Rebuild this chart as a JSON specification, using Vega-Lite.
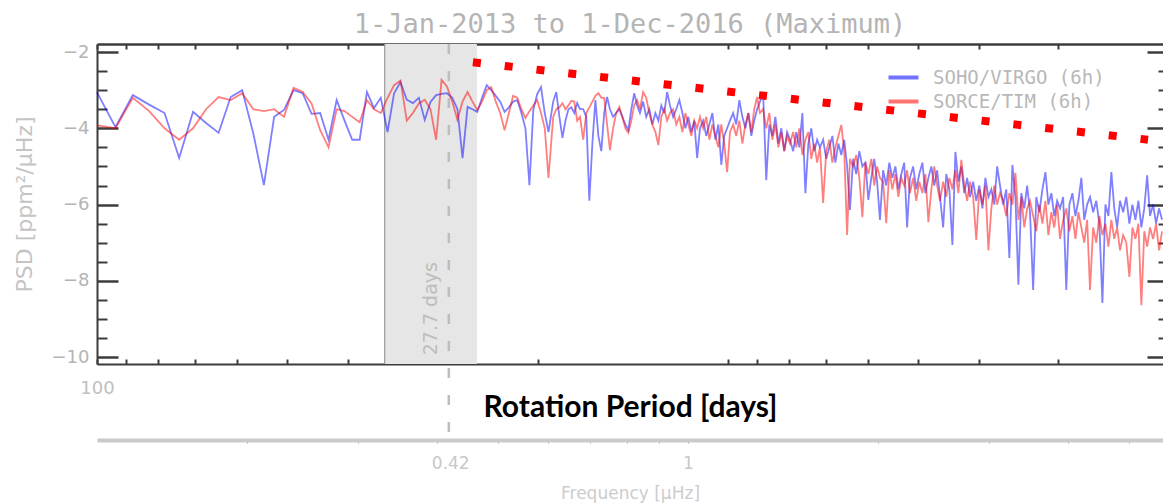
{
  "$schema": "https://vega.github.io/schema/vega-lite/v6.json",
  "width": 1066,
  "height": 320,
  "autosize": {"type": "none"},
  "padding": {"left": 97, "top": 44, "right": 0, "bottom": 140},
  "background": "#ffffff",
  "config": {
    "view": {"stroke": null},
    "axis": {"grid": false, "zindex": 1, "labelFont": "DejaVu Sans", "titleFont": "DejaVu Sans"}
  },
  "title": {
    "text": "1-Jan-2013 to 1-Dec-2016 (Maximum)",
    "font": "DejaVu Sans Mono",
    "fontSize": 27,
    "fontWeight": "normal",
    "color": "#b4b4b4",
    "anchor": "middle",
    "offset": 4
  },
  "datasets": {
    "psd": [
      {"f":0.1157,"virgo":-3.05,"tim":-3.92},
      {"f":0.1238,"virgo":-3.97,"tim":-4.0},
      {"f":0.1319,"virgo":-3.13,"tim":-3.2},
      {"f":0.1400,"virgo":-3.38,"tim":-3.55},
      {"f":0.1481,"virgo":-3.6,"tim":-4.0},
      {"f":0.1562,"virgo":-4.78,"tim":-4.3},
      {"f":0.1643,"virgo":-3.57,"tim":-4.0},
      {"f":0.1723,"virgo":-3.86,"tim":-3.5},
      {"f":0.1804,"virgo":-4.12,"tim":-3.18},
      {"f":0.1885,"virgo":-3.18,"tim":-3.26},
      {"f":0.1966,"virgo":-3.0,"tim":-3.08},
      {"f":0.2047,"virgo":-4.13,"tim":-3.5},
      {"f":0.2128,"virgo":-5.49,"tim":-3.55},
      {"f":0.2209,"virgo":-3.7,"tim":-3.5},
      {"f":0.2290,"virgo":-3.52,"tim":-3.7},
      {"f":0.2371,"virgo":-3.0,"tim":-2.94},
      {"f":0.2451,"virgo":-3.08,"tim":-3.05},
      {"f":0.2532,"virgo":-3.62,"tim":-3.35},
      {"f":0.2613,"virgo":-3.6,"tim":-4.05},
      {"f":0.2694,"virgo":-4.3,"tim":-4.5},
      {"f":0.2775,"virgo":-3.26,"tim":-3.5},
      {"f":0.2856,"virgo":-3.8,"tim":-3.55},
      {"f":0.2937,"virgo":-4.3,"tim":-3.7},
      {"f":0.3018,"virgo":-4.3,"tim":-3.84},
      {"f":0.3099,"virgo":-3.05,"tim":-3.26},
      {"f":0.3180,"virgo":-3.47,"tim":-3.5},
      {"f":0.3260,"virgo":-3.2,"tim":-3.6},
      {"f":0.3341,"virgo":-4.1,"tim":-3.2},
      {"f":0.3422,"virgo":-3.08,"tim":-2.87},
      {"f":0.3503,"virgo":-2.79,"tim":-2.75},
      {"f":0.3584,"virgo":-3.25,"tim":-3.8},
      {"f":0.3665,"virgo":-3.34,"tim":-3.6},
      {"f":0.3746,"virgo":-3.2,"tim":-3.35},
      {"f":0.3827,"virgo":-3.78,"tim":-3.25},
      {"f":0.3908,"virgo":-3.31,"tim":-3.5},
      {"f":0.3989,"virgo":-3.13,"tim":-4.3},
      {"f":0.4069,"virgo":-3.1,"tim":-2.73},
      {"f":0.4150,"virgo":-3.08,"tim":-2.9},
      {"f":0.4231,"virgo":-3.2,"tim":-3.3},
      {"f":0.4312,"virgo":-3.5,"tim":-3.78},
      {"f":0.4393,"virgo":-4.78,"tim":-3.3},
      {"f":0.4474,"virgo":-3.44,"tim":-3.05},
      {"f":0.4555,"virgo":-3.5,"tim":-3.3},
      {"f":0.4636,"virgo":-3.57,"tim":-3.52},
      {"f":0.4717,"virgo":-3.2,"tim":-3.3},
      {"f":0.4798,"virgo":-2.87,"tim":-3.0},
      {"f":0.4878,"virgo":-3.0,"tim":-2.92},
      {"f":0.4959,"virgo":-3.15,"tim":-3.3},
      {"f":0.5040,"virgo":-3.3,"tim":-3.6},
      {"f":0.5121,"virgo":-3.57,"tim":-4.05},
      {"f":0.5202,"virgo":-3.45,"tim":-3.6},
      {"f":0.5283,"virgo":-3.3,"tim":-3.15},
      {"f":0.5364,"virgo":-3.26,"tim":-3.2},
      {"f":0.5445,"virgo":-3.6,"tim":-3.5},
      {"f":0.5526,"virgo":-4.0,"tim":-3.73},
      {"f":0.5607,"virgo":-5.49,"tim":-3.55},
      {"f":0.5687,"virgo":-3.52,"tim":-3.4},
      {"f":0.5768,"virgo":-3.1,"tim":-3.26},
      {"f":0.5849,"virgo":-2.92,"tim":-3.6},
      {"f":0.5930,"virgo":-3.6,"tim":-4.0},
      {"f":0.6011,"virgo":-4.1,"tim":-5.3},
      {"f":0.6115,"virgo":-3.3,"tim":-3.7},
      {"f":0.6185,"virgo":-3.05,"tim":-3.5},
      {"f":0.6255,"virgo":-3.7,"tim":-3.45},
      {"f":0.6325,"virgo":-4.25,"tim":-3.34},
      {"f":0.6395,"virgo":-3.8,"tim":-3.5},
      {"f":0.6464,"virgo":-3.5,"tim":-3.4},
      {"f":0.6534,"virgo":-3.45,"tim":-3.28},
      {"f":0.6604,"virgo":-3.6,"tim":-3.3},
      {"f":0.6674,"virgo":-3.34,"tim":-3.8},
      {"f":0.6744,"virgo":-3.5,"tim":-3.7},
      {"f":0.6822,"virgo":-3.5,"tim":-4.3},
      {"f":0.6900,"virgo":-3.7,"tim":-3.6},
      {"f":0.6977,"virgo":-5.9,"tim":-3.45},
      {"f":0.7055,"virgo":-4.4,"tim":-3.3},
      {"f":0.7133,"virgo":-3.26,"tim":-3.15},
      {"f":0.7211,"virgo":-4.2,"tim":-3.08},
      {"f":0.7289,"virgo":-4.6,"tim":-3.2},
      {"f":0.7366,"virgo":-3.6,"tim":-3.2},
      {"f":0.7444,"virgo":-3.18,"tim":-3.9},
      {"f":0.7522,"virgo":-3.5,"tim":-4.57},
      {"f":0.7609,"virgo":-3.7,"tim":-4.0},
      {"f":0.7696,"virgo":-3.6,"tim":-3.6},
      {"f":0.7783,"virgo":-3.5,"tim":-3.44},
      {"f":0.7870,"virgo":-3.7,"tim":-3.7},
      {"f":0.7958,"virgo":-3.9,"tim":-4.0},
      {"f":0.8045,"virgo":-4.05,"tim":-4.12},
      {"f":0.8132,"virgo":-3.5,"tim":-3.8},
      {"f":0.8219,"virgo":-3.08,"tim":-3.4},
      {"f":0.8306,"virgo":-3.4,"tim":-3.26},
      {"f":0.8393,"virgo":-3.6,"tim":-3.5},
      {"f":0.8490,"virgo":-3.3,"tim":-3.05},
      {"f":0.8587,"virgo":-3.7,"tim":-3.2},
      {"f":0.8684,"virgo":-3.5,"tim":-3.6},
      {"f":0.8781,"virgo":-3.9,"tim":-3.9},
      {"f":0.8879,"virgo":-3.6,"tim":-4.1},
      {"f":0.8976,"virgo":-3.8,"tim":-4.44},
      {"f":0.9073,"virgo":-3.4,"tim":-3.7},
      {"f":0.9170,"virgo":-3.6,"tim":-3.5},
      {"f":0.9267,"virgo":-3.05,"tim":-3.8},
      {"f":0.9364,"virgo":-3.4,"tim":-3.6},
      {"f":0.9472,"virgo":-3.7,"tim":-3.5},
      {"f":0.9581,"virgo":-3.5,"tim":-3.9},
      {"f":0.9689,"virgo":-3.26,"tim":-3.7},
      {"f":0.9798,"virgo":-3.6,"tim":-4.1},
      {"f":0.9906,"virgo":-4.0,"tim":-3.6},
      {"f":1.0014,"virgo":-3.7,"tim":-3.9},
      {"f":1.0123,"virgo":-4.1,"tim":-4.2},
      {"f":1.0231,"virgo":-3.8,"tim":-3.8},
      {"f":1.0340,"virgo":-4.78,"tim":-4.0},
      {"f":1.0448,"virgo":-4.0,"tim":-3.7},
      {"f":1.0569,"virgo":-3.8,"tim":-4.0},
      {"f":1.0690,"virgo":-4.2,"tim":-3.7},
      {"f":1.0810,"virgo":-3.9,"tim":-4.3},
      {"f":1.0931,"virgo":-3.6,"tim":-3.9},
      {"f":1.1052,"virgo":-4.3,"tim":-4.2},
      {"f":1.1173,"virgo":-3.9,"tim":-4.5},
      {"f":1.1294,"virgo":-4.96,"tim":-3.9},
      {"f":1.1414,"virgo":-4.2,"tim":-4.4},
      {"f":1.1535,"virgo":-4.0,"tim":-5.15},
      {"f":1.1656,"virgo":-3.8,"tim":-4.1},
      {"f":1.1791,"virgo":-3.6,"tim":-3.9},
      {"f":1.1926,"virgo":-3.9,"tim":-4.2},
      {"f":1.2060,"virgo":-3.26,"tim":-3.8},
      {"f":1.2195,"virgo":-3.7,"tim":-4.4},
      {"f":1.2330,"virgo":-4.0,"tim":-3.9},
      {"f":1.2465,"virgo":-3.6,"tim":-3.6},
      {"f":1.2600,"virgo":-4.2,"tim":-4.1},
      {"f":1.2734,"virgo":-3.8,"tim":-3.5},
      {"f":1.2869,"virgo":-3.5,"tim":-3.18},
      {"f":1.3004,"virgo":-3.3,"tim":-3.6},
      {"f":1.3155,"virgo":-3.08,"tim":-3.5},
      {"f":1.3305,"virgo":-5.36,"tim":-4.0},
      {"f":1.3456,"virgo":-3.9,"tim":-3.6},
      {"f":1.3606,"virgo":-4.2,"tim":-4.3},
      {"f":1.3757,"virgo":-3.7,"tim":-3.9},
      {"f":1.3907,"virgo":-4.4,"tim":-4.5},
      {"f":1.4058,"virgo":-4.0,"tim":-4.1},
      {"f":1.4208,"virgo":-4.6,"tim":-4.6},
      {"f":1.4359,"virgo":-4.1,"tim":-4.2},
      {"f":1.4509,"virgo":-4.3,"tim":-4.4},
      {"f":1.4677,"virgo":-4.6,"tim":-4.1},
      {"f":1.4845,"virgo":-4.1,"tim":-4.5},
      {"f":1.5012,"virgo":-4.5,"tim":-4.0},
      {"f":1.5180,"virgo":-3.6,"tim":-4.7},
      {"f":1.5348,"virgo":-5.7,"tim":-4.3},
      {"f":1.5516,"virgo":-4.4,"tim":-4.1},
      {"f":1.5684,"virgo":-4.0,"tim":-4.8},
      {"f":1.5851,"virgo":-4.6,"tim":-4.4},
      {"f":1.6019,"virgo":-4.3,"tim":-4.9},
      {"f":1.6187,"virgo":-4.5,"tim":-4.5},
      {"f":1.6374,"virgo":-4.3,"tim":-5.96},
      {"f":1.6561,"virgo":-4.8,"tim":-4.6},
      {"f":1.6749,"virgo":-4.5,"tim":-4.3},
      {"f":1.6936,"virgo":-4.2,"tim":-4.9},
      {"f":1.7123,"virgo":-4.9,"tim":-4.5},
      {"f":1.7310,"virgo":-4.4,"tim":-4.2},
      {"f":1.7497,"virgo":-4.7,"tim":-3.91},
      {"f":1.7685,"virgo":-4.3,"tim":-4.6},
      {"f":1.7872,"virgo":-5.0,"tim":-6.8},
      {"f":1.8059,"virgo":-6.14,"tim":-4.8},
      {"f":1.8268,"virgo":-4.8,"tim":-5.0},
      {"f":1.8477,"virgo":-5.2,"tim":-4.7},
      {"f":1.8686,"virgo":-4.6,"tim":-5.3},
      {"f":1.8895,"virgo":-5.0,"tim":-6.33},
      {"f":1.9104,"virgo":-4.9,"tim":-4.9},
      {"f":1.9312,"virgo":-5.88,"tim":-5.2},
      {"f":1.9521,"virgo":-5.3,"tim":-4.8},
      {"f":1.9730,"virgo":-4.8,"tim":-5.5},
      {"f":1.9939,"virgo":-5.4,"tim":-5.0},
      {"f":2.0148,"virgo":-6.4,"tim":-5.3},
      {"f":2.0381,"virgo":-5.1,"tim":-5.4},
      {"f":2.0614,"virgo":-5.5,"tim":-6.49},
      {"f":2.0847,"virgo":-4.9,"tim":-5.1},
      {"f":2.1080,"virgo":-5.3,"tim":-5.6},
      {"f":2.1314,"virgo":-5.0,"tim":-5.2},
      {"f":2.1547,"virgo":-5.6,"tim":-5.8},
      {"f":2.1780,"virgo":-5.2,"tim":-5.3},
      {"f":2.2013,"virgo":-4.9,"tim":-5.5},
      {"f":2.2246,"virgo":-6.6,"tim":-5.1},
      {"f":2.2479,"virgo":-5.3,"tim":-5.7},
      {"f":2.2739,"virgo":-5.0,"tim":-5.3},
      {"f":2.3000,"virgo":-5.6,"tim":-5.9},
      {"f":2.3260,"virgo":-5.2,"tim":-5.4},
      {"f":2.3520,"virgo":-4.9,"tim":-5.7},
      {"f":2.3781,"virgo":-5.7,"tim":-5.2},
      {"f":2.4041,"virgo":-5.3,"tim":-6.46},
      {"f":2.4301,"virgo":-5.0,"tim":-5.6},
      {"f":2.4561,"virgo":-5.5,"tim":-5.0},
      {"f":2.4822,"virgo":-5.1,"tim":-5.5},
      {"f":2.5082,"virgo":-5.8,"tim":-5.9},
      {"f":2.5372,"virgo":-6.6,"tim":-5.4},
      {"f":2.5662,"virgo":-5.2,"tim":-5.8},
      {"f":2.5953,"virgo":-5.6,"tim":-5.3},
      {"f":2.6243,"virgo":-7.06,"tim":-5.6},
      {"f":2.6533,"virgo":-4.62,"tim":-5.1},
      {"f":2.6823,"virgo":-5.4,"tim":-5.7},
      {"f":2.7113,"virgo":-5.0,"tim":-4.83},
      {"f":2.7404,"virgo":-5.7,"tim":-5.5},
      {"f":2.7694,"virgo":-5.3,"tim":-5.9},
      {"f":2.7984,"virgo":-5.8,"tim":-5.4},
      {"f":2.8308,"virgo":-5.4,"tim":-5.8},
      {"f":2.8631,"virgo":-5.9,"tim":-6.93},
      {"f":2.8955,"virgo":-5.5,"tim":-5.6},
      {"f":2.9279,"virgo":-6.1,"tim":-6.0},
      {"f":2.9603,"virgo":-5.3,"tim":-5.5},
      {"f":2.9926,"virgo":-5.8,"tim":-7.2},
      {"f":3.0250,"virgo":-5.6,"tim":-6.1},
      {"f":3.0574,"virgo":-6.0,"tim":-5.5},
      {"f":3.0897,"virgo":-5.0,"tim":-6.0},
      {"f":3.1221,"virgo":-5.5,"tim":-5.7},
      {"f":3.1582,"virgo":-6.0,"tim":-5.9},
      {"f":3.1944,"virgo":-5.6,"tim":-6.3},
      {"f":3.2305,"virgo":-7.4,"tim":-5.7},
      {"f":3.2666,"virgo":-4.96,"tim":-6.0},
      {"f":3.3028,"virgo":-5.8,"tim":-5.17},
      {"f":3.3389,"virgo":-8.1,"tim":-6.4},
      {"f":3.3750,"virgo":-5.7,"tim":-5.8},
      {"f":3.4112,"virgo":-6.1,"tim":-6.6},
      {"f":3.4473,"virgo":-5.5,"tim":-6.1},
      {"f":3.4834,"virgo":-6.2,"tim":-5.9},
      {"f":3.5237,"virgo":-8.24,"tim":-6.3},
      {"f":3.5640,"virgo":-5.8,"tim":-6.7},
      {"f":3.6043,"virgo":-6.2,"tim":-6.0},
      {"f":3.6446,"virgo":-5.6,"tim":-6.5},
      {"f":3.6849,"virgo":-5.15,"tim":-5.9},
      {"f":3.7252,"virgo":-6.0,"tim":-6.8},
      {"f":3.7655,"virgo":-5.7,"tim":-6.2},
      {"f":3.8058,"virgo":-6.3,"tim":-6.6},
      {"f":3.8461,"virgo":-5.9,"tim":-6.0},
      {"f":3.8864,"virgo":-6.1,"tim":-6.9},
      {"f":3.9314,"virgo":-5.8,"tim":-6.4},
      {"f":3.9763,"virgo":-8.24,"tim":-6.1},
      {"f":4.0213,"virgo":-6.0,"tim":-6.7},
      {"f":4.0662,"virgo":-5.7,"tim":-6.3},
      {"f":4.1112,"virgo":-6.3,"tim":-6.9},
      {"f":4.1562,"virgo":-5.9,"tim":-6.2},
      {"f":4.2011,"virgo":-5.3,"tim":-6.6},
      {"f":4.2461,"virgo":-6.4,"tim":-7.0},
      {"f":4.2910,"virgo":-6.0,"tim":-6.4},
      {"f":4.3360,"virgo":-5.8,"tim":-8.24},
      {"f":4.3862,"virgo":-6.2,"tim":-6.6},
      {"f":4.4363,"virgo":-5.9,"tim":-7.0},
      {"f":4.4865,"virgo":-6.5,"tim":-6.3},
      {"f":4.5367,"virgo":-8.58,"tim":-6.8},
      {"f":4.5869,"virgo":-6.0,"tim":-6.5},
      {"f":4.6370,"virgo":-6.3,"tim":-7.1},
      {"f":4.6872,"virgo":-5.15,"tim":-6.4},
      {"f":4.7374,"virgo":-6.1,"tim":-6.9},
      {"f":4.7875,"virgo":-6.6,"tim":-6.6},
      {"f":4.8377,"virgo":-5.9,"tim":-7.2},
      {"f":4.8937,"virgo":-6.2,"tim":-6.8},
      {"f":4.9496,"virgo":-5.8,"tim":-7.0},
      {"f":5.0056,"virgo":-6.5,"tim":-7.9},
      {"f":5.0616,"virgo":-6.0,"tim":-6.6},
      {"f":5.1176,"virgo":-6.4,"tim":-6.9},
      {"f":5.1735,"virgo":-5.9,"tim":-6.5},
      {"f":5.2295,"virgo":-6.6,"tim":-8.64},
      {"f":5.2855,"virgo":-6.1,"tim":-6.7},
      {"f":5.3414,"virgo":-5.23,"tim":-7.1},
      {"f":5.3974,"virgo":-6.3,"tim":-6.6},
      {"f":5.4578,"virgo":-6.0,"tim":-6.9},
      {"f":5.5182,"virgo":-6.5,"tim":-6.5},
      {"f":5.5786,"virgo":-6.1,"tim":-7.2},
      {"f":5.6390,"virgo":-6.4,"tim":-6.7}
    ]
  },
  "layer": [
    {
      "data": {"values": [{"lo": 0.33069, "hi": 0.46296}]},
      "mark": {"type": "rect", "color": "#e6e6e6"},
      "encoding": {
        "x": {
          "field": "lo", "type": "quantitative",
          "scale": {"type": "log", "domain": [0.11574, 5.6592], "nice": false},
          "axis": {
            "orient": "bottom",
            "values": [0.11574, 0.1286, 0.14468, 0.16534, 0.1929, 0.23148, 0.28935, 0.3858, 0.5787, 1.1574, 1.286, 1.4468, 1.6534, 1.929, 2.3148, 2.8935, 3.858],
            "tickSize": -5, "tickWidth": 2, "tickColor": "#3c3c3c",
            "domainColor": "#3c3c3c", "domainWidth": 2,
            "labelExpr": "datum.value < 0.12 ? '100' : ''",
            "labelPadding": 20, "labelColor": "#c0c0c0", "labelFontSize": 18,
            "labelFlush": false, "labelOverlap": false, "labelBound": false,
            "title": "Rotation Period [days]",
            "titleFont": "Lato", "titleFontWeight": "bold", "titleFontSize": 30, "titleColor": "#000000",
            "titleBaseline": "alphabetic", "titleY": 52
          }
        },
        "x2": {"field": "hi"}
      }
    },
    {
      "data": {"values": [{"lo": 0.33069}]},
      "mark": {"type": "rule", "color": "#8c8c8c", "strokeWidth": 1},
      "encoding": {
        "x": {
          "field": "lo", "type": "quantitative",
          "scale": {"type": "log", "domain": [0.11574, 5.6592], "nice": false},
          "axis": {
            "orient": "top",
            "values": [0.11574, 0.1286, 0.14468, 0.16534, 0.1929, 0.23148, 0.28935, 0.3858, 0.5787, 1.1574, 1.286, 1.4468, 1.6534, 1.929, 2.3148, 2.8935, 3.858],
            "tickSize": -5, "tickWidth": 2, "tickColor": "#3c3c3c",
            "domainColor": "#3c3c3c", "domainWidth": 2.5,
            "labels": false, "title": null
          }
        }
      }
    },
    {
      "data": {"values": [{"f": 0.41784, "top": -1.79, "bot": -12.18}]},
      "mark": {"type": "rule", "color": "#bdbdbd", "strokeWidth": 2.5, "strokeDash": [10, 17]},
      "encoding": {
        "x": {
          "field": "f", "type": "quantitative",
          "scale": {"type": "log", "domain": [0.11574, 5.6592], "nice": false},
          "axis": {
            "orient": "bottom", "offset": 76,
            "values": [0.2, 0.3, 0.4, 0.42, 0.5, 0.6, 0.7, 0.8, 0.9, 1, 2, 3, 4, 5],
            "tickSize": 3, "tickWidth": 1, "tickColor": "#a0a0a0",
            "tickOpacity": {"condition": {"test": "datum.value == 0.42", "value": 0}, "value": 1},
            "domainColor": "#cacaca", "domainWidth": 4,
            "labelExpr": "datum.value == 1 ? '1' : (datum.value == 0.42 ? '0.42' : '')",
            "labelPadding": 12, "labelColor": "#c8c8c8", "labelFontSize": 17,
            "labelFlush": false, "labelOverlap": false, "labelBound": false,
            "title": "Frequency [μHz]", "titleColor": "#cccccc", "titleFontSize": 17,
            "titleFontWeight": "normal", "titleBaseline": "alphabetic", "titleY": 58
          }
        },
        "y": {
          "field": "top", "type": "quantitative",
          "scale": {"domain": [-10.18, -1.79], "nice": false, "zero": false},
          "axis": {
            "orient": "left",
            "values": [-2.5, -3, -3.5, -4.5, -5, -5.5, -6.5, -7, -7.5, -8.5, -9, -9.5],
            "tickSize": -10, "tickWidth": 2, "tickColor": "#3c3c3c",
            "domain": false, "labels": false, "title": null
          }
        },
        "y2": {"field": "bot"}
      }
    },
    {
      "data": {"values": [{"f": 0.41784, "p": -9.95, "label": "27.7 days"}]},
      "mark": {"type": "text", "angle": 270, "align": "left", "baseline": "alphabetic", "dy": -12, "font": "DejaVu Sans", "fontSize": 19, "color": "#bdbdbd"},
      "encoding": {
        "x": {"field": "f", "type": "quantitative", "scale": {"type": "log", "domain": [0.11574, 5.6592], "nice": false}, "axis": null},
        "y": {
          "field": "p", "type": "quantitative",
          "scale": {"domain": [-10.18, -1.79], "nice": false, "zero": false},
          "axis": {
            "orient": "right", "values": [-2, -4, -6, -8, -10],
            "tickSize": -16, "tickWidth": 2.5, "tickColor": "#3c3c3c",
            "domain": false, "labels": false, "title": null
          }
        },
        "text": {"field": "label"}
      }
    },
    {
      "data": {"name": "psd"},
      "transform": [{"fold": ["virgo", "tim"], "as": ["series", "psd"]}],
      "mark": {"type": "line", "strokeWidth": 1.8, "opacity": 0.5},
      "encoding": {
        "x": {"field": "f", "type": "quantitative", "scale": {"type": "log", "domain": [0.11574, 5.6592], "nice": false}, "axis": null},
        "y": {
          "field": "psd", "type": "quantitative",
          "scale": {"domain": [-10.18, -1.79], "nice": false, "zero": false},
          "axis": {
            "orient": "left", "values": [-2, -4, -6, -8, -10], "format": "d",
            "tickSize": -21, "tickWidth": 2.5, "tickColor": "#3c3c3c",
            "domainColor": "#3c3c3c", "domainWidth": 2,
            "labelPadding": 29, "labelColor": "#b4b4b4", "labelFontSize": 18,
            "title": "PSD [ppm²/μHz]", "titleColor": "#c4c4c4", "titleFontSize": 22,
            "titleFontWeight": "normal", "titlePadding": 15
          }
        },
        "color": {
          "field": "series", "type": "nominal",
          "scale": {"domain": ["virgo", "tim"], "range": ["#0000ff", "#ff0000"]},
          "legend": {
            "orient": "none", "legendX": 797, "legendY": 24, "title": null, "padding": 0,
            "symbolType": "M-2,0H2", "symbolSize": 225, "symbolStrokeWidth": 4, "symbolOpacity": 0.55,
            "labelFont": "DejaVu Sans Mono", "labelFontSize": 19, "labelColor": "#b8b8b8",
            "labelOffset": 20, "rowPadding": 4, "labelLimit": 400,
            "labelExpr": "datum.label == 'virgo' ? 'SOHO/VIRGO (6h)' : 'SORCE/TIM (6h)'"
          }
        }
      }
    },
    {
      "data": {"values": [{"f": 0.4562, "p": -2.27}, {"f": 5.358, "p": -4.30}]},
      "mark": {"type": "line", "color": "#ff0000", "strokeWidth": 8, "strokeDash": [8, 24], "strokeCap": "butt"},
      "encoding": {
        "x": {"field": "f", "type": "quantitative", "scale": {"type": "log", "domain": [0.11574, 5.6592], "nice": false}, "axis": null},
        "y": {
          "field": "p", "type": "quantitative",
          "scale": {"domain": [-10.18, -1.79], "nice": false, "zero": false},
          "axis": {
            "orient": "right",
            "values": [-2.5, -3, -3.5, -4.5, -5, -5.5, -6.5, -7, -7.5, -8.5, -9, -9.5],
            "tickSize": -5, "tickWidth": 2, "tickColor": "#3c3c3c",
            "domain": false, "labels": false, "title": null
          }
        }
      }
    }
  ],
  "resolve": {"axis": {"x": "independent", "y": "independent"}}
}
